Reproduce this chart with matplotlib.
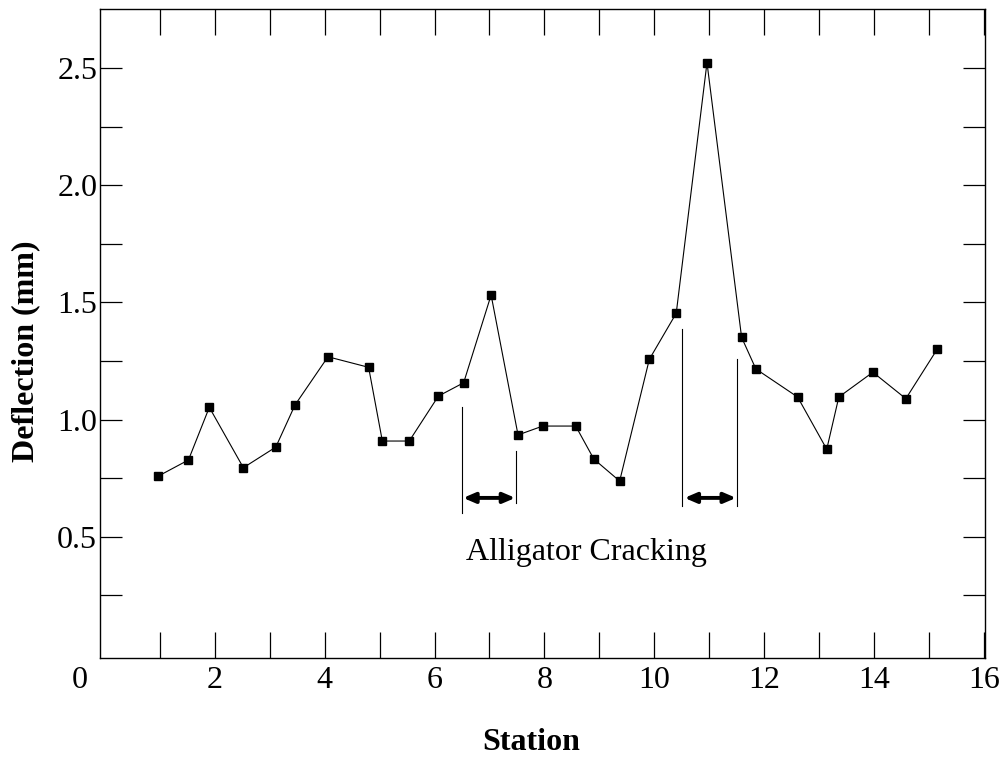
import matplotlib
matplotlib.use("Agg")
import matplotlib.pyplot as plt
from matplotlib.ticker import MultipleLocator, FixedLocator
import matplotlib.transforms as mtransforms

# Data
station = [0.97, 1.52, 1.90, 2.52, 3.11, 3.46, 4.06, 4.80, 5.05, 5.54, 6.07, 6.53,
           7.03, 7.52, 7.97, 8.57, 8.90, 9.37, 9.91, 10.40, 10.96, 11.59, 11.85,
           12.61, 13.14, 13.36, 13.98, 14.58, 15.15]
deflection = [0.758, 0.827, 1.052, 0.794, 0.882, 1.062, 1.268, 1.223, 0.908, 0.908,
              1.100, 1.157, 1.532, 0.934, 0.972, 0.972, 0.831, 0.737, 1.257, 1.454,
              2.525, 1.351, 1.216, 1.096, 0.873, 1.096, 1.202, 1.089, 1.300]

x_ticks = [0, 2, 4, 6, 8, 10, 12, 14, 16]
x_ticklabels = ["0", "2", "4", "6", "8", "10", "12", "14", "16"]
y_ticks = [0.5, 1.0, 1.5, 2.0, 2.5]
y_ticklabels = ["0.5", "1.0", "1.5", "2.0", "2.5"]

# Cracking zone annotations: (x, y_bottom, y_top) of marker lines
zone_lines = [(6.50, 0.600, 1.053), (7.49, 0.643, 0.865),
              (10.51, 0.630, 1.387), (11.51, 0.630, 1.258)]
zone_arrows = [(6.52, 7.47, 0.665), (10.55, 11.49, 0.665)]
annotation_text = "Alligator Cracking"

plt.rcParams['font.family'] = ['Liberation Serif', 'DejaVu Serif']

fig = plt.figure(figsize=(10.03, 7.57), dpi=100)
ax = fig.add_axes([0.0997, 0.1308, 0.8823, 0.8573])

ax.plot(station, deflection, color='black', lw=0.8, marker='s', ms=6,
        mfc='black', mec='black')

for (x, y0, y1) in zone_lines:
    ax.plot([x, x], [y0, y1], color='black', lw=0.8)
for (x0, x1, y) in zone_arrows:
    ax.annotate("", xy=(x1, y), xytext=(x0, y),
                arrowprops=dict(arrowstyle="<|-|>,head_length=0.7,head_width=0.3",
                                color='black', lw=2.8, shrinkA=0, shrinkB=0))
ax.text(8.77, 0.40, annotation_text, ha='center', va='baseline', fontsize=23)

ax.set_xlim(-0.09, 16.02)
ax.set_ylim(-0.019, 2.754)

ax.xaxis.set_major_locator(FixedLocator(x_ticks))
ax.set_xticklabels(x_ticklabels)
ax.xaxis.set_minor_locator(MultipleLocator(1))
ax.yaxis.set_major_locator(FixedLocator(y_ticks))
ax.set_yticklabels(y_ticklabels)
ax.yaxis.set_minor_locator(FixedLocator([0.25, 0.75, 1.25, 1.75, 2.25]))

ax.tick_params(axis='x', which='both', direction='in', length=18.7, width=0.9,
               top=True, bottom=True, labelsize=23, pad=6)
ax.tick_params(axis='y', which='both', direction='in', length=15.8, width=0.9,
               left=True, right=True, labelsize=23, pad=2)

# no tick mark at 0 (it sits right next to the left spine in the original)
t0 = ax.xaxis.get_major_ticks()[0]
t0.tick1line.set_visible(False)
t0.tick2line.set_visible(False)
for t in ax.xaxis.get_minor_ticks():
    pass

# shift the "0" label a bit left, as in the original
lbl0 = ax.get_xticklabels()[0]
lbl0.set_transform(lbl0.get_transform() +
                   mtransforms.ScaledTranslation(-25/100, 0, fig.dpi_scale_trans))

for s in ax.spines.values():
    s.set_linewidth(1.0)

ax.set_xlabel("Station", fontsize=23, fontweight='bold')
ax.set_ylabel("Deflection (mm)", fontsize=23, fontweight='bold')
ax.xaxis.set_label_coords(0.487, -0.108)
ax.yaxis.set_label_coords(-0.068, 0.473)

fig.savefig("out.png", dpi=100)
